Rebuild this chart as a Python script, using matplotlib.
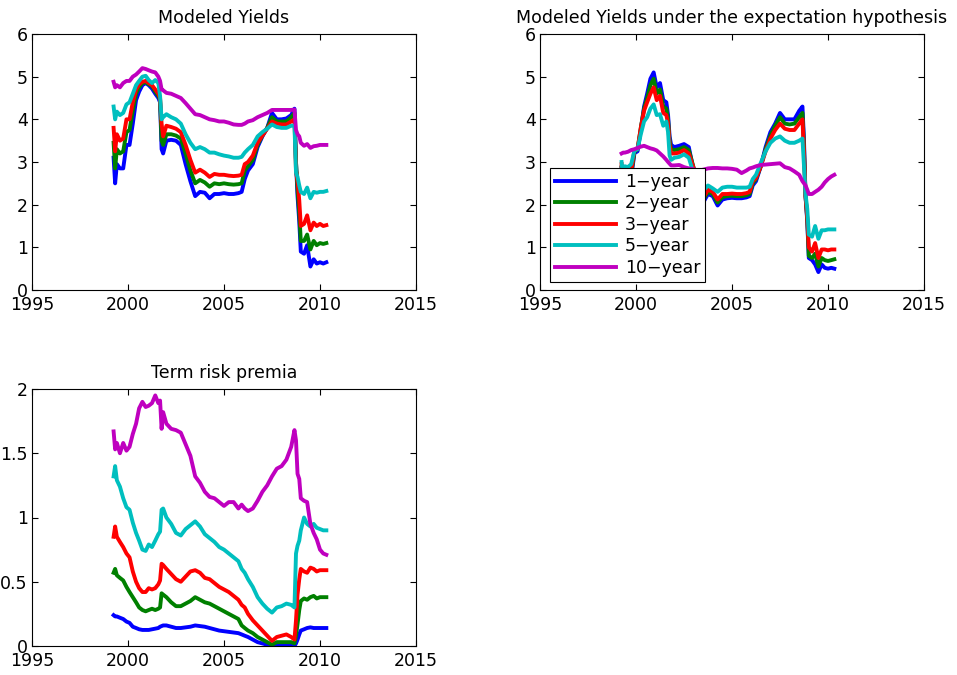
import numpy as np
import matplotlib
matplotlib.use("Agg")
import matplotlib.pyplot as plt

# sample dates (fractional years) shared by every series
dates = [1999.25, 1999.33, 1999.42, 1999.58, 1999.75, 1999.92, 2000.08, 2000.25,
         2000.42, 2000.58, 2000.75, 2000.92, 2001.08, 2001.25, 2001.42, 2001.58,
         2001.67, 2001.75, 2001.83, 2002.0, 2002.25, 2002.5, 2002.75, 2003.0,
         2003.25, 2003.5, 2003.75, 2004.0, 2004.25, 2004.5, 2004.75, 2005.0,
         2005.25, 2005.5, 2005.75, 2005.92, 2006.08, 2006.25, 2006.5, 2006.75,
         2007.0, 2007.25, 2007.5, 2007.75, 2008.0, 2008.25, 2008.5, 2008.67,
         2008.75, 2008.83, 2008.92, 2009.0, 2009.17, 2009.33, 2009.5, 2009.67,
         2009.83, 2010.0, 2010.17, 2010.33]

labels = ["1\u2212year", "2\u2212year", "3\u2212year", "5\u2212year", "10\u2212year"]
colors = [(0, 0, 1), (0, 0.5, 0), (1, 0, 0), (0, 0.75, 0.75), (0.75, 0, 0.75)]

# modeled yields
my_1y = [3.1, 2.5, 2.95, 2.85, 2.85, 3.4, 3.4, 3.9, 4.45, 4.65, 4.8, 4.85, 4.8, 4.72, 4.6, 4.5,
         4.4, 3.3, 3.2, 3.5, 3.52, 3.5, 3.4, 2.95, 2.55, 2.2, 2.3, 2.28, 2.15, 2.25, 2.25, 2.27,
         2.25, 2.25, 2.27, 2.3, 2.6, 2.8, 2.95, 3.35, 3.6, 3.8, 4.15, 4.0, 4.0, 4.02, 4.1, 4.25,
         3.0, 2.2, 1.6, 0.9, 0.85, 1.05, 0.55, 0.72, 0.62, 0.65, 0.62, 0.65]
my_2y = [3.45, 2.85, 3.3, 3.2, 3.25, 3.7, 3.75, 4.2, 4.6, 4.75, 4.85, 4.87, 4.82, 4.78, 4.65, 4.55,
         4.45, 3.5, 3.4, 3.65, 3.65, 3.62, 3.55, 3.2, 2.8, 2.5, 2.58, 2.52, 2.42, 2.5, 2.48, 2.5,
         2.48, 2.47, 2.48, 2.5, 2.8, 2.9, 3.05, 3.4, 3.62, 3.8, 4.05, 3.95, 3.95, 3.95, 4.05, 4.15,
         3.0, 2.35, 1.8, 1.15, 1.15, 1.3, 0.95, 1.15, 1.05, 1.1, 1.08, 1.1]
my_3y = [3.8, 3.25, 3.65, 3.5, 3.55, 4.0, 4.0, 4.4, 4.7, 4.82, 4.88, 4.9, 4.85, 4.8, 4.7, 4.6,
         4.5, 3.9, 3.6, 3.85, 3.82, 3.78, 3.7, 3.4, 3.05, 2.75, 2.82, 2.75, 2.65, 2.72, 2.7, 2.7,
         2.68, 2.67, 2.68, 2.7, 2.95, 3.0, 3.15, 3.45, 3.62, 3.78, 3.95, 3.9, 3.88, 3.88, 3.95, 4.0,
         2.8, 2.55, 2.1, 1.5, 1.55, 1.75, 1.4, 1.58, 1.5, 1.55, 1.5, 1.52]
my_5y = [4.3, 4.0, 4.18, 4.1, 4.15, 4.35, 4.4, 4.6, 4.8, 4.9, 5.0, 5.02, 4.92, 4.85, 4.92, 4.85,
         4.55, 4.0, 4.05, 4.12, 4.05, 4.0, 3.9, 3.65, 3.45, 3.3, 3.35, 3.3, 3.22, 3.22, 3.18, 3.15,
         3.13, 3.1, 3.1, 3.12, 3.22, 3.3, 3.4, 3.6, 3.7, 3.78, 3.88, 3.82, 3.8, 3.8, 3.85, 3.85,
         2.75, 2.65, 2.45, 2.3, 2.25, 2.4, 2.15, 2.3, 2.28, 2.3, 2.3, 2.32]
my_10y = [4.88, 4.75, 4.8, 4.75, 4.85, 4.9, 4.9, 5.0, 5.05, 5.12, 5.2, 5.18, 5.15, 5.12, 5.1, 5.0,
          4.9, 4.7, 4.68, 4.62, 4.6, 4.55, 4.5, 4.38, 4.25, 4.12, 4.1, 4.05, 4.0, 3.98, 3.95, 3.95,
          3.92, 3.88, 3.87, 3.87, 3.9, 3.95, 3.98, 4.05, 4.1, 4.15, 4.22, 4.22, 4.22, 4.22, 4.22, 4.23,
          3.75, 3.65, 3.6, 3.45, 3.38, 3.42, 3.33, 3.37, 3.38, 3.4, 3.4, 3.4]

# yields under the expectation hypothesis
eh_1y = [2.86, 2.27, 2.73, 2.63, 2.65, 3.21, 3.25, 3.75, 4.3, 4.6, 4.95, 5.1, 4.75, 4.85, 4.45, 4.4,
         4.1, 3.6, 3.4, 3.35, 3.38, 3.42, 3.35, 2.8, 2.4, 2.05, 2.25, 2.2, 1.98, 2.12, 2.15, 2.16,
         2.15, 2.15, 2.17, 2.2, 2.45, 2.55, 2.9, 3.35, 3.7, 3.9, 4.15, 4.0, 4.0, 4.0, 4.2, 4.3,
         3.5, 2.2, 1.6, 0.75, 0.7, 0.6, 0.42, 0.6, 0.52, 0.5, 0.52, 0.5]
eh_2y = [2.88, 2.27, 2.75, 2.68, 2.72, 3.24, 3.3, 3.8, 4.25, 4.5, 4.8, 4.95, 4.6, 4.7, 4.3, 4.25,
         4.0, 3.5, 3.3, 3.28, 3.3, 3.35, 3.28, 2.87, 2.45, 2.12, 2.3, 2.25, 2.05, 2.18, 2.2, 2.21,
         2.2, 2.2, 2.22, 2.25, 2.5, 2.6, 2.9, 3.3, 3.62, 3.85, 4.05, 3.9, 3.88, 3.9, 4.05, 4.15,
         3.35, 2.2, 1.65, 0.8, 0.75, 0.85, 0.55, 0.75, 0.7, 0.68, 0.7, 0.72]
eh_3y = [2.95, 2.32, 2.8, 2.72, 2.8, 3.28, 3.3, 3.8, 4.2, 4.4, 4.6, 4.75, 4.45, 4.55, 4.15, 4.1,
         3.9, 3.4, 3.2, 3.2, 3.22, 3.28, 3.2, 2.86, 2.47, 2.16, 2.35, 2.3, 2.12, 2.25, 2.25, 2.26,
         2.25, 2.25, 2.27, 2.3, 2.55, 2.62, 2.9, 3.25, 3.55, 3.75, 3.9, 3.78, 3.75, 3.75, 3.9, 4.0,
         3.2, 2.2, 1.7, 1.0, 0.9, 1.1, 0.75, 0.95, 0.95, 0.93, 0.95, 0.95]
eh_5y = [3.0, 2.6, 2.9, 2.88, 2.95, 3.27, 3.3, 3.65, 3.95, 4.05, 4.25, 4.35, 4.1, 4.12, 3.85, 3.95,
         3.7, 3.15, 3.05, 3.1, 3.12, 3.18, 3.1, 2.73, 2.5, 2.33, 2.45, 2.38, 2.3, 2.4, 2.42, 2.42,
         2.4, 2.4, 2.4, 2.42, 2.6, 2.7, 2.98, 3.25, 3.45, 3.55, 3.6, 3.5, 3.45, 3.45, 3.5, 3.55,
         2.9, 2.25, 1.9, 1.3, 1.25, 1.5, 1.2, 1.4, 1.4, 1.42, 1.42, 1.42]
eh_10y = [3.2, 3.22, 3.22, 3.24, 3.28, 3.3, 3.33, 3.36, 3.38, 3.35, 3.32, 3.3, 3.27, 3.2, 3.13, 3.05,
          3.0, 2.96, 2.92, 2.92, 2.93, 2.88, 2.85, 2.83, 2.8, 2.82, 2.85, 2.86, 2.86, 2.85, 2.85, 2.84,
          2.82, 2.74, 2.8, 2.85, 2.87, 2.9, 2.93, 2.94, 2.95, 2.96, 2.97, 2.88, 2.85, 2.78, 2.7, 2.55,
          2.5, 2.45, 2.35, 2.25, 2.25, 2.3, 2.35, 2.42, 2.52, 2.6, 2.66, 2.7]

# term risk premia
tp_1y = [0.24, 0.23, 0.23, 0.22, 0.21, 0.19, 0.18, 0.15, 0.14, 0.13, 0.125, 0.125, 0.125, 0.13, 0.135, 0.14,
         0.15, 0.155, 0.16, 0.16, 0.15, 0.14, 0.14, 0.145, 0.15, 0.16, 0.155, 0.15, 0.14, 0.13, 0.12, 0.115,
         0.11, 0.105, 0.1, 0.09, 0.08, 0.07, 0.05, 0.03, 0.02, 0.01, 0.0, 0.01, 0.01, 0.015, 0.01, 0.0,
         0.02, 0.05, 0.09, 0.12, 0.13, 0.14, 0.145, 0.14, 0.14, 0.14, 0.14, 0.14]
tp_2y = [0.57, 0.6, 0.55, 0.53, 0.51, 0.46, 0.42, 0.38, 0.34, 0.3, 0.28, 0.27, 0.28, 0.29, 0.28, 0.29,
         0.3, 0.41, 0.4, 0.38, 0.34, 0.31, 0.31, 0.33, 0.35, 0.38, 0.36, 0.34, 0.33, 0.31, 0.29, 0.27,
         0.25, 0.23, 0.21, 0.16, 0.14, 0.12, 0.1, 0.07, 0.05, 0.03, 0.01, 0.03, 0.03, 0.03, 0.03, 0.02,
         0.08, 0.17, 0.28, 0.35, 0.37, 0.36, 0.38, 0.39, 0.37, 0.38, 0.38, 0.38]
tp_3y = [0.85, 0.93, 0.85, 0.81, 0.77, 0.72, 0.69, 0.58, 0.5, 0.45, 0.42, 0.42, 0.45, 0.44, 0.45, 0.48,
         0.51, 0.64, 0.63, 0.6, 0.56, 0.52, 0.5, 0.54, 0.58, 0.59, 0.57, 0.53, 0.52, 0.49, 0.46, 0.44,
         0.42, 0.39, 0.36, 0.32, 0.3, 0.25, 0.2, 0.16, 0.12, 0.08, 0.04, 0.07, 0.08, 0.09, 0.07, 0.05,
         0.2, 0.4, 0.52, 0.6, 0.58, 0.57, 0.61, 0.6, 0.58, 0.59, 0.59, 0.59]
tp_5y = [1.32, 1.4, 1.29, 1.24, 1.15, 1.08, 1.06, 0.96, 0.88, 0.82, 0.75, 0.74, 0.79, 0.77, 0.82, 0.87,
         0.89, 1.06, 1.07, 1.0, 0.95, 0.88, 0.86, 0.91, 0.94, 0.97, 0.93, 0.87, 0.84, 0.81, 0.77, 0.75,
         0.72, 0.69, 0.66, 0.6, 0.57, 0.52, 0.46, 0.38, 0.33, 0.29, 0.26, 0.3, 0.31, 0.33, 0.32, 0.3,
         0.72, 0.78, 0.82, 0.9, 1.0, 0.95, 0.93, 0.95, 0.92, 0.91, 0.9, 0.9]
tp_10y = [1.67, 1.53, 1.58, 1.5, 1.58, 1.52, 1.55, 1.65, 1.73, 1.85, 1.9, 1.86, 1.87, 1.89, 1.95, 1.89,
          1.91, 1.69, 1.82, 1.73, 1.69, 1.68, 1.66, 1.57, 1.48, 1.32, 1.27, 1.2, 1.16, 1.15, 1.12, 1.09,
          1.12, 1.12, 1.07, 1.1, 1.07, 1.05, 1.07, 1.13, 1.2, 1.25, 1.32, 1.38, 1.4, 1.45, 1.55, 1.68,
          1.6, 1.34, 1.3, 1.15, 1.13, 1.12, 0.95, 0.88, 0.83, 0.75, 0.72, 0.71]

plt.rcParams["font.family"] = ["DejaVu Sans"]
FS = 12.5

fig = plt.figure(figsize=(9.57, 6.75), dpi=100)
W, H = 957.0, 675.0


def make_axes(left, top, right, bottom):
    return fig.add_axes([left / W, 1 - bottom / H, (right - left) / W, (bottom - top) / H])


def style(ax, ymax, yticks, ylabels):
    ax.set_xlim(1995, 2015)
    ax.set_ylim(0, ymax)
    ax.set_xticks([1995, 2000, 2005, 2010, 2015])
    ax.set_yticks(yticks)
    ax.set_yticklabels(ylabels)
    ax.tick_params(direction="in", length=4, width=0.8, top=True, right=True,
                   labelsize=FS)
    ax.tick_params(axis="x", pad=4)
    ax.tick_params(axis="y", pad=3)
    for s in ax.spines.values():
        s.set_linewidth(0.8)


panels = [
    (make_axes(32, 34, 416, 290), "Modeled Yields", [my_1y, my_2y, my_3y, my_5y, my_10y],
     6, [0, 1, 2, 3, 4, 5, 6], ["0", "1", "2", "3", "4", "5", "6"]),
    (make_axes(540, 34, 924, 290), "Modeled Yields under the expectation hypothesis",
     [eh_1y, eh_2y, eh_3y, eh_5y, eh_10y],
     6, [0, 1, 2, 3, 4, 5, 6], ["0", "1", "2", "3", "4", "5", "6"]),
    (make_axes(32, 389, 416, 646), "Term risk premia", [tp_1y, tp_2y, tp_3y, tp_5y, tp_10y],
     2, [0, 0.5, 1, 1.5, 2], ["0", "0.5", "1", "1.5", "2"]),
]

for ax, title, series, ymax, yt, yl in panels:
    for vals, c, lab in zip(series, colors, labels):
        ax.plot(dates, vals, color=c, linewidth=2.8, label=lab, solid_joinstyle="round")
    style(ax, ymax, yt, yl)
    ax.set_title(title, fontsize=FS, pad=8)

leg_ax = panels[1][0]
leg = leg_ax.legend(loc="lower left", bbox_to_anchor=(0.026, 0.031), fontsize=FS,
                    handlelength=3.5, labelspacing=0.2, borderpad=0.3,
                    handletextpad=0.5, fancybox=False, framealpha=1, borderaxespad=0)
leg.get_frame().set_edgecolor("black")
leg.get_frame().set_linewidth(0.8)

fig.savefig("out.png", dpi=100)
